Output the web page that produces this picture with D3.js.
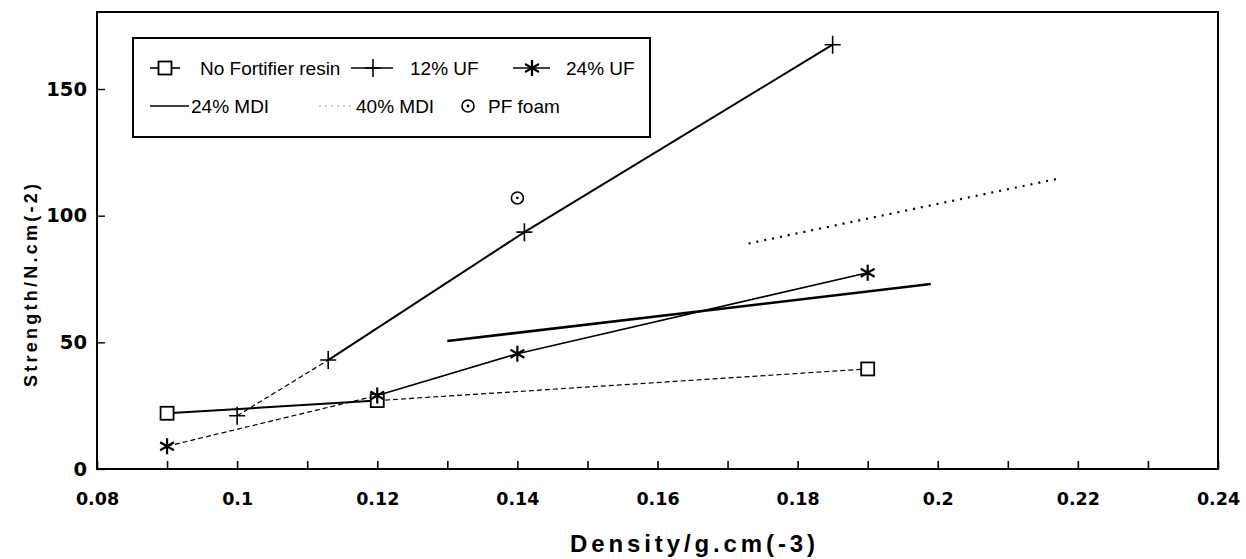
<!DOCTYPE html>
<html>
<head>
<meta charset="utf-8">
<script src="https://cdn.jsdelivr.net/npm/d3@7"></script>
<style>
  body { margin: 0; background: #fff; }
  svg { display: block; }
  .tick text { font-family: 'DejaVu Sans', sans-serif; font-weight: bold; }
</style>
</head>
<body>
<svg id="chart" width="1246" height="559"></svg>
<script>
// values
var noFortDensity = [0.09, 0.12, 0.19]
var noFortStrength = [22, 27, 39.5]
var uf12Density = [0.1, 0.113, 0.141, 0.185]
var uf12Strength = [21, 43, 93.5, 167.5]
var uf24Density = [0.09, 0.12, 0.14, 0.19]
var uf24Strength = [9, 29, 45.5, 77.5]
var mdi24Density = [0.13, 0.199]
var mdi24Strength = [50.5, 73]
var mdi40Density = [0.173, 0.217]
var mdi40Strength = [89, 114.5]
var pfDensity = [0.14]
var pfStrength = [107]

var xTicks = [0.08, 0.1, 0.12, 0.14, 0.16, 0.18, 0.2, 0.22, 0.24]
var xMinor = [0.09, 0.11, 0.13, 0.15, 0.17, 0.19, 0.21, 0.23]
var yTicks = [0, 50, 100, 150]

// note: "top" is window.top in a browser, so use other names
var plotLeft = 97, plotRight = 1218, plotTop = 12, plotBottom = 469

var svg = d3.select('#chart')
var x = d3.scaleLinear().domain([0.08, 0.24]).range([plotLeft, plotRight])
var y = d3.scaleLinear().domain([0, 180.4]).range([plotBottom, plotTop])

function pts(xs, ys) { return xs.map(function(d, i){ return [d, ys[i]] }) }

// frame
svg.append('rect')
  .attr('x', plotLeft).attr('y', plotTop)
  .attr('width', plotRight - plotLeft).attr('height', plotBottom - plotTop)
  .attr('fill', 'none').attr('stroke', '#000').attr('stroke-width', 2)

// x axis, ticks pointing inward
var xAxis = svg.append('g').attr('transform', 'translate(0,' + plotBottom + ')')
  .call(d3.axisBottom(x).tickValues(xTicks.concat(xMinor)).tickSizeInner(-8).tickSizeOuter(0)
    .tickFormat(function(d){ return xTicks.some(function(t){ return Math.abs(t - d) < 1e-9 }) ? d3.format('~g')(d) : '' }))
xAxis.select('.domain').remove()
xAxis.selectAll('.tick line').attr('stroke-width', 1.6)
xAxis.selectAll('.tick text').attr('font-size', 17.5).attr('dy', 0).attr('y', 36)

var yAxis = svg.append('g').attr('transform', 'translate(' + plotLeft + ',0)')
  .call(d3.axisLeft(y).tickValues(yTicks).tickSizeInner(-8).tickSizeOuter(0).tickPadding(10))
yAxis.select('.domain').remove()
yAxis.selectAll('.tick line').attr('stroke-width', 1.4)
yAxis.selectAll('.tick text').attr('font-size', 19.5)

// axis titles
svg.append('text')
  .attr('x', 570).attr('y', 552)
  .attr('font-family', 'Liberation Sans, Arial, sans-serif').attr('font-weight', 'bold').attr('font-size', 24)
  .attr('textLength', 245).attr('lengthAdjust', 'spacing')
  .text('Density/g.cm(-3)')

svg.append('text')
  .attr('transform', 'translate(37,387)rotate(-90)')
  .attr('font-family', 'Liberation Sans, Arial, sans-serif').attr('font-weight', 'bold').attr('font-size', 18)
  .attr('textLength', 203).attr('lengthAdjust', 'spacing')
  .text('Strength/N.cm(-2)')

// segments, drawn with per-segment style
function segments(data, styles) {
  for (var i = 0; i < data.length - 1; i++) {
    var s = styles[i]
    svg.append('line')
      .attr('x1', x(data[i][0])).attr('y1', y(data[i][1]))
      .attr('x2', x(data[i + 1][0])).attr('y2', y(data[i + 1][1]))
      .attr('stroke', '#000')
      .attr('stroke-width', s.w)
      .attr('stroke-dasharray', s.dash || null)
      .attr('stroke-linecap', s.cap || 'butt')
  }
}

var solid = {w: 2}
var thin = {w: 1.6}
var dash = {w: 1.2, dash: '5,3'}

segments(pts(noFortDensity, noFortStrength), [solid, dash])
segments(pts(uf12Density, uf12Strength), [dash, solid, solid])
segments(pts(uf24Density, uf24Strength), [dash, thin, thin])
segments(pts(mdi24Density, mdi24Strength), [{w: 2.6}])
segments(pts(mdi40Density, mdi40Strength), [{w: 2.2, dash: '2,6', cap: 'butt'}])

// markers
function square(g, cx, cy) {
  g.append('rect').attr('x', cx - 6.5).attr('y', cy - 6.5).attr('width', 13).attr('height', 13)
    .attr('fill', '#fff').attr('stroke', '#000').attr('stroke-width', 1.8)
}
function plus(g, cx, cy) {
  g.append('path').attr('d', 'M' + (cx - 8) + ',' + cy + 'H' + (cx + 8) + 'M' + cx + ',' + (cy - 9) + 'V' + (cy + 9))
    .attr('stroke', '#000').attr('stroke-width', 1.6).attr('fill', 'none')
}
function star(g, cx, cy) {
  var d = ''
  var r = 8
  ;[90, 30, 150].forEach(function(a) {
    var dx = r * Math.cos(a * Math.PI / 180), dy = r * Math.sin(a * Math.PI / 180)
    d += 'M' + (cx - dx) + ',' + (cy - dy) + 'L' + (cx + dx) + ',' + (cy + dy)
  })
  g.append('path').attr('d', d).attr('stroke', '#000').attr('stroke-width', 2.2).attr('fill', 'none')
}
function ring(g, cx, cy) {
  g.append('circle').attr('cx', cx).attr('cy', cy).attr('r', 6).attr('fill', '#fff').attr('stroke', '#000').attr('stroke-width', 1.6)
  g.append('circle').attr('cx', cx).attr('cy', cy).attr('r', 1.4).attr('fill', '#000')
}

var marks = svg.append('g')
pts(noFortDensity, noFortStrength).forEach(function(d){ square(marks, x(d[0]), y(d[1])) })
pts(uf12Density, uf12Strength).forEach(function(d){ plus(marks, x(d[0]), y(d[1])) })
pts(uf24Density, uf24Strength).forEach(function(d){ star(marks, x(d[0]), y(d[1])) })
pts(pfDensity, pfStrength).forEach(function(d){ ring(marks, x(d[0]), y(d[1])) })

// legend
var legend = svg.append('g')
legend.append('rect').attr('x', 133).attr('y', 38).attr('width', 517).attr('height', 99)
  .attr('fill', '#fff').attr('stroke', '#000').attr('stroke-width', 2)

function legendText(tx, ty, label) {
  legend.append('text').attr('x', tx).attr('y', ty)
    .attr('font-family', 'Liberation Sans, Arial, sans-serif').attr('font-size', 19)
    .text(label)
}
function legendLine(x1, x2, ly, w, dashArr, color) {
  legend.append('line').attr('x1', x1).attr('x2', x2).attr('y1', ly).attr('y2', ly)
    .attr('stroke', color || '#000').attr('stroke-width', w).attr('stroke-dasharray', dashArr || null)
}

var row1 = 68, row2 = 106
legendLine(150, 180, row1, 1.6)
square(legend, 165, row1)
legendText(200, row1 + 7, 'No Fortifier resin')
legendLine(351, 393, row1, 1.6)
plus(legend, 373, row1)
legendText(410, row1 + 7, '12% UF')
legendLine(513, 550, row1, 1.6)
star(legend, 532, row1)
legendText(566, row1 + 7, '24% UF')

legendLine(150, 189, row2, 1.4)
legendText(191, row2 + 7, '24% MDI')
legendLine(319, 353, row2, 1, '2,4', '#999')
legendText(356, row2 + 7, '40% MDI')
ring(legend, 468, row2)
legendText(488, row2 + 7, 'PF foam')
</script>
</body>
</html>
